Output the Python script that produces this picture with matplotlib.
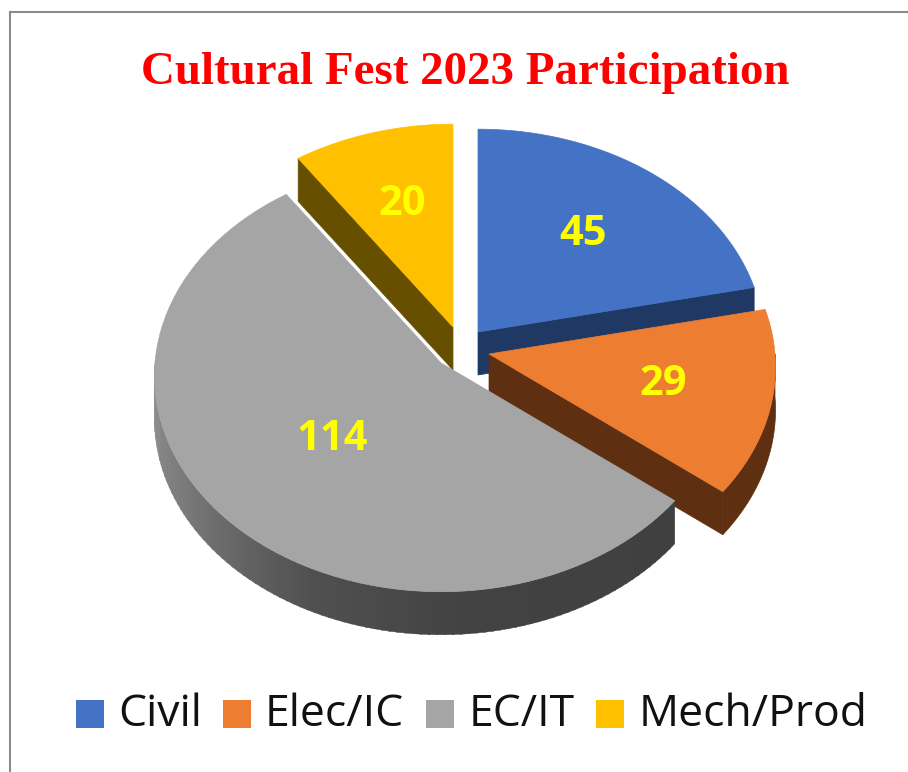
import numpy as np
import matplotlib
matplotlib.use("Agg")
import matplotlib.pyplot as plt
from matplotlib.patches import Polygon, Rectangle

# Chart data
categories = ["Civil", "Elec/IC", "EC/IT", "Mech/Prod"]
values = [45, 29, 114, 20]

# Styles
top_colors = ["#4472C4", "#ED7D31", "#A5A5A5", "#FFC000"]
side_colors = ["#203864", "#5F2F11", "#444444", "#665000"]
apex_x = [478, 489, 441, 453]
apex_y = [332, 354, 363, 327]
label_r = [0.60, 0.62, 0.51, 0.62]
draw_order = [3, 0, 1, 2]
legend_box_x = [76, 223, 426, 596]
legend_text_x = [118, 265, 469, 639]

radius_x = 286
radius_y = 215
perspective = 0.06
depth = 43

fig = plt.figure(figsize=(9.08, 7.72), dpi=100)
ax = fig.add_axes([0, 0, 1, 1])
ax.set_xlim(0, 908)
ax.set_ylim(772, 0)
ax.axis("off")


# Angle is clockwise from the top in degrees, r is 0..1 along the radius
def project(i, angle, r=1.0):
    a = np.radians(angle)
    u = r * np.sin(a)
    v = r * np.cos(a)
    w = 1 + perspective * v
    return apex_x[i] + radius_x * u / w, apex_y[i] - radius_y * v / w


def arc(i, start, end, r=1.0):
    angles = np.linspace(start, end, 80)
    x, y = project(i, angles, r)
    return np.column_stack([x, y])


# The rim of the big slice goes dark from left to bottom
def rim_shade(angle):
    grey = np.interp(angle, [128, 175, 205, 240, 270, 290], [64, 66, 80, 122, 145, 150])
    return (grey / 255, grey / 255, grey / 255)


# Frame around the picture
ax.plot([10, 10], [772, 12], color="#8c8c8c", lw=1.5)
ax.plot([10, 908], [12, 12], color="#8c8c8c", lw=1.5)

total = sum(values)
ends = np.cumsum(values) / total * 360
starts = np.concatenate([[0], ends[:-1]])

for i in draw_order:
    start, end = starts[i], ends[i]
    rim = arc(i, start, end)
    apex = np.array([[apex_x[i], apex_y[i]]])
    down = np.array([0, depth])

    # Straight cut walls that face the viewer
    if i in [0, 1]:
        p = np.array(project(i, end))
        wall = np.vstack([apex, [p], [p + down], apex + down])
        ax.add_patch(Polygon(wall, closed=True, fc=side_colors[i], ec=side_colors[i], lw=0.5))
    if i == 3:
        p = np.array(project(i, start))
        wall = np.vstack([apex, [p], [p + down], apex + down])
        ax.add_patch(Polygon(wall, closed=True, fc=side_colors[i], ec=side_colors[i], lw=0.5))

    # Curved outside wall, only where it faces the viewer
    low = max(start, 90)
    high = min(end, 270)
    if low < high:
        if i == 2:
            steps = np.arange(low, high + 1.5, 1.5)
            for a, b in zip(steps[:-1], steps[1:]):
                seg = arc(i, a, b + 0.3)
                quad = np.vstack([seg, seg[::-1] + down])
                shade = rim_shade((a + b) / 2)
                ax.add_patch(Polygon(quad, closed=True, fc=shade, ec=shade, lw=0.3))
        else:
            seg = arc(i, low, high)
            quad = np.vstack([seg, seg[::-1] + down])
            ax.add_patch(Polygon(quad, closed=True, fc=side_colors[i], ec=side_colors[i], lw=0.5))

    # Top face
    top = np.vstack([apex, rim])
    ax.add_patch(Polygon(top, closed=True, fc=top_colors[i], ec=top_colors[i], lw=0.5))

# Value labels
for i, val in enumerate(values):
    x, y = project(i, (starts[i] + ends[i]) / 2, label_r[i])
    ax.text(x, y, str(val), color="#FFFF00", fontsize=30, fontweight="bold",
            family="Open Sans", ha="center", va="center")

ax.text(465, 73, "Cultural Fest 2023 Participation", color="#FF0000", fontsize=33.8,
        fontweight="bold", family="Liberation Serif", ha="center", va="center")

# Legend
for i, name in enumerate(categories):
    ax.add_patch(Rectangle((legend_box_x[i], 700), 28, 28, fc=top_colors[i], ec="none"))
    ax.text(legend_text_x[i], 715, name, color="#111111", fontsize=32,
            family="Open Sans", ha="left", va="center")

plt.savefig("out.png", dpi=100)
plt.close("all")
